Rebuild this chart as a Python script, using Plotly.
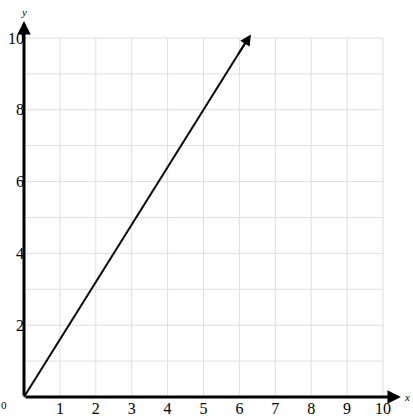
import plotly.graph_objects as go

# Data
x_ticks = [1, 2, 3, 4, 5, 6, 7, 8, 9, 10]
y_ticks = [2, 4, 6, 8, 10]
grid_vals = [1, 2, 3, 4, 5, 6, 7, 8, 9, 10]
line_x = [0, 6.25]
line_y = [0, 10]
arrow_tip = (6.32, 10.1)
x_axis_end = 10.5
y_axis_end = 10.47

FONT = "Liberation Serif"
GRID = "#dedede"

fig = go.Figure()

# grid lines
for v in grid_vals:
    fig.add_shape(type="line", x0=v, x1=v, y0=0, y1=10, xref="x", yref="y",
                  line=dict(color=GRID, width=1), layer="below")
    fig.add_shape(type="line", x0=0, x1=10, y0=v, y1=v, xref="x", yref="y",
                  line=dict(color=GRID, width=1), layer="below")

# main line
fig.add_trace(go.Scatter(x=line_x, y=line_y, mode="lines",
                         line=dict(color="black", width=2), hoverinfo="skip",
                         showlegend=False))
# arrowhead for main line
fig.add_annotation(x=arrow_tip[0], y=arrow_tip[1], ax=line_x[1] - 0.3, ay=line_y[1] - 0.48,
                   xref="x", yref="y", axref="x", ayref="y", showarrow=True,
                   arrowhead=2, arrowsize=1.1, arrowwidth=2, arrowcolor="black", text="")

# axes with arrows
fig.add_annotation(x=x_axis_end, y=0, ax=0, ay=0, xref="x", yref="y", axref="x", ayref="y",
                   showarrow=True, arrowhead=2, arrowsize=0.9, arrowwidth=3,
                   arrowcolor="black", text="")
fig.add_annotation(x=0, y=y_axis_end, ax=0, ay=0, xref="x", yref="y", axref="x", ayref="y",
                   showarrow=True, arrowhead=2, arrowsize=0.9, arrowwidth=3,
                   arrowcolor="black", text="")

# axis titles
fig.add_annotation(x=x_axis_end, y=0, xref="x", yref="y", text="<i>x</i>", showarrow=False,
                   xanchor="left", yanchor="middle", xshift=1,
                   font=dict(family=FONT, size=11, color="black"))
fig.add_annotation(x=0, y=y_axis_end, xref="x", yref="y", text="<i>y</i>", showarrow=False,
                   xanchor="center", yanchor="bottom", yshift=1,
                   font=dict(family=FONT, size=11, color="black"))
# origin label
fig.add_annotation(x=0, y=0, xref="x", yref="y", text="0", showarrow=False,
                   xanchor="center", yanchor="middle", xshift=-20, yshift=-8,
                   font=dict(family=FONT, size=11, color="black"))

fig.update_layout(
    template="none",
    width=413, height=420,
    margin=dict(l=17, r=8, t=15, b=15, autoexpand=False),
    plot_bgcolor="white", paper_bgcolor="white",
    xaxis=dict(range=[-0.195, 10.613], showgrid=False, zeroline=False, showline=False,
               tickvals=x_ticks, ticktext=[str(v) for v in x_ticks], ticks="",
               anchor="free", position=0.0205, automargin=False,
               tickfont=dict(family=FONT, size=16, color="black"), fixedrange=True),
    yaxis=dict(range=[-0.223, 10.64], showgrid=False, zeroline=False, showline=False,
               tickvals=y_ticks, ticktext=[str(v) for v in y_ticks], ticks="",
               anchor="free", position=0.018, automargin=False,
               tickfont=dict(family=FONT, size=16, color="black"), fixedrange=True),
)

fig.write_html("out.html", config={"displayModeBar": False},
               post_script="document.body.style.margin='0';document.body.style.overflow='hidden';")
